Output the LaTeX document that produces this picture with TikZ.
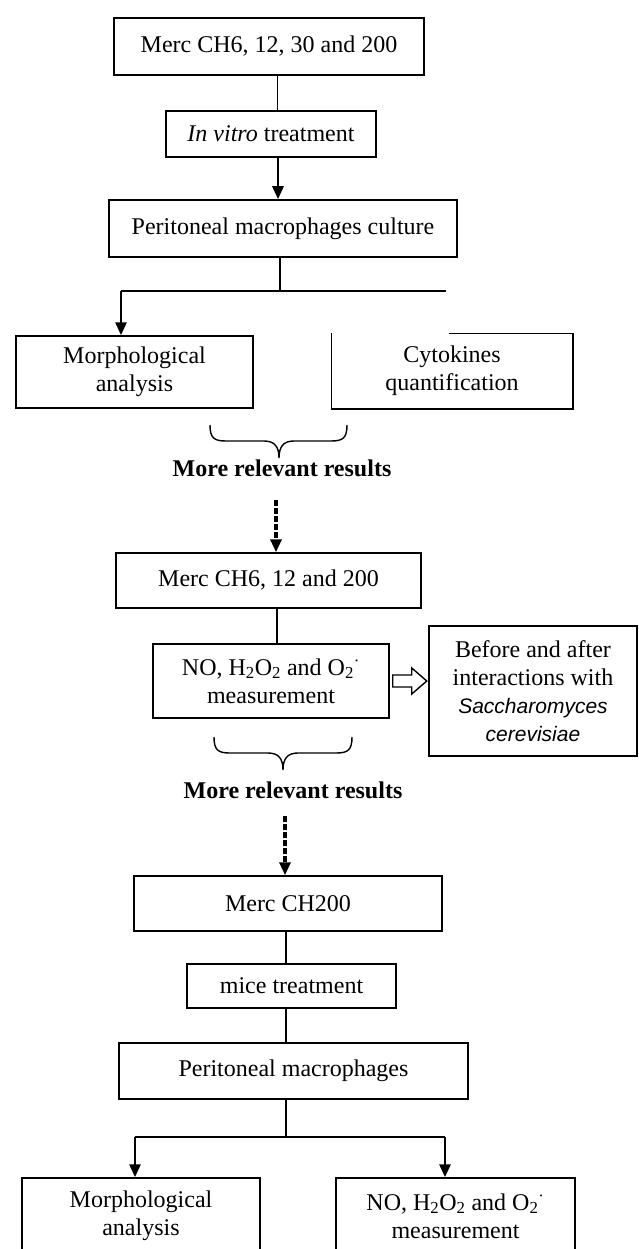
\documentclass[tikz,border=0pt]{standalone}
\usepackage{fontspec}
\setmainfont{Liberation Serif}
\setsansfont{Liberation Sans}
\usetikzlibrary{arrows.meta,calc}
\newcommand{\superox}{O\textsubscript{2}\textsuperscript{·}}
\begin{document}
\begin{tikzpicture}[x=1pt,y=-1pt,
  box/.style={draw, line width=1.5pt, inner sep=0pt, align=center, font=\fontsize{24}{28}\selectfont},
  conn/.style={line width=1.2pt},
  hbar/.style={line width=1.5pt},
  thickarrow/.style={line width=2.8pt, -{Triangle[length=13pt,width=11pt]}},
  dasharrow/.style={line width=3.2pt, dash pattern=on 6pt off 2pt, -{Triangle[length=13pt,width=11pt]}},
  bracepath/.style={line width=1.4pt},
  result/.style={font=\bfseries\fontsize{24}{28}\selectfont, inner sep=0pt},
  hollow/.style={line width=1.4pt}]
\useasboundingbox (0,0) rectangle (638,1249);
\clip (0,0) rectangle (638,1249);

% first stage
\node[box, minimum width=310pt, minimum height=57pt] (b1) at (269,46.5) {Merc CH6, 12, 30 and 200};
\node[box, minimum width=210pt, minimum height=46pt] (b2) at (271,134) {\textit{In vitro} treatment};
\node[box, minimum width=348pt, minimum height=57pt] (b3) at (283,228.5) {Peritoneal macrophages culture};
\coordinate (j1) at (280,291);
\coordinate (jl) at (121,291);
\coordinate (jr) at (446,291);
\node[box, minimum width=237pt, minimum height=72pt] (b4) at (134.5,372) {Morphological\\analysis};
\node[box, draw=none, minimum width=240pt, minimum height=74pt] (b5) at (452,371) {Cytokines\\quantification};
\draw[line width=1.5pt] ([xshift=-124pt]b5.north east) -- (b5.north east) -- (b5.south east) -- (b5.south west) -- (b5.north west);

\draw[conn] ([xshift=8.5pt]b1.south) -- ([xshift=6.5pt]b2.north);
\draw[thickarrow] ([xshift=7pt]b2.south) -- ([xshift=-5pt]b3.north);
\draw[conn] ([xshift=-3pt]b3.south) -- (j1);
\draw[hbar] (jl) -- (jr);
\draw[thickarrow] (jl) -- (jl |- b4.north);

\draw[bracepath] (210,425) .. controls (210,438) and (214,441) .. (226,441) -- (264,441) .. controls (274,441) and (279,446) .. (279,458) .. controls (279,446) and (284,441) .. (294,441) -- (331,441) .. controls (343,441) and (347,438) .. (347,425);
\node[result] (r1) at (282,468) {More relevant results};
\coordinate (d1) at (276,500);

% second stage
\node[box, minimum width=305pt, minimum height=55pt] (b6) at (268.5,580.5) {Merc CH6, 12 and 200};
\draw[dasharrow] (d1) -- (d1 |- b6.north);
\node[box, minimum width=236pt, minimum height=74pt] (b7) at (271,681) {NO, H\textsubscript{2}O\textsubscript{2} and \superox\\measurement};
\node[box, minimum width=208pt, minimum height=130pt] (b7r) at (533,691) {Before and after\\interactions with\\{\sffamily\itshape\fontsize{21}{28}\selectfont Saccharomyces}\\{\sffamily\itshape\fontsize{21}{28}\selectfont cerevisiae}};
\draw[conn] ([xshift=8.5pt]b6.south) -- ([xshift=6pt]b7.north);
\draw[hollow] ($(b7.east)+(3,-6)$) -- ++(19,0) -- ++(0,-7) -- ++(15,13) -- ++(-15,13) -- ++(0,-7) -- ++(-19,0) -- cycle;

\draw[bracepath] (214,737) .. controls (214,750) and (218,753) .. (230,753) -- (268,753) .. controls (278,753) and (283,758) .. (283,770) .. controls (283,758) and (288,753) .. (298,753) -- (336,753) .. controls (348,753) and (352,750) .. (352,737);
\node[result] (r2) at (293,790) {More relevant results};
\coordinate (d2) at (285,816);

% third stage
\node[box, minimum width=308pt, minimum height=55pt] (b8) at (288,903.5) {Merc CH200};
\draw[dasharrow] (d2) -- (d2 |- b8.north);
\node[box, minimum width=209pt, minimum height=44pt] (b9) at (291.5,986) {mice treatment};
\node[box, minimum width=349pt, minimum height=56pt] (b10) at (293.5,1071) {Peritoneal macrophages};
\coordinate (j2) at (286,1137);
\coordinate (kl) at (135,1137);
\coordinate (kr) at (445,1137);
\node[box, minimum width=238pt, minimum height=76pt] (b11) at (141,1216) {Morphological\\analysis};
\node[box, minimum width=239pt, minimum height=76pt] (b12) at (455.5,1216) {NO, H\textsubscript{2}O\textsubscript{2} and \superox\\measurement};

\draw[conn] ([xshift=-2pt]b8.south) -- ([xshift=-5.5pt]b9.north);
\draw[conn] ([xshift=-5.5pt]b9.south) -- ([xshift=-7.5pt]b10.north);
\draw[conn] ([xshift=-7.5pt]b10.south) -- (j2);
\draw[line width=2.2pt] (kl) -- (kr);
\draw[thickarrow] (kl) -- (kl |- b11.north);
\draw[thickarrow] (kr) -- (kr |- b12.north);
\end{tikzpicture}
\end{document}
